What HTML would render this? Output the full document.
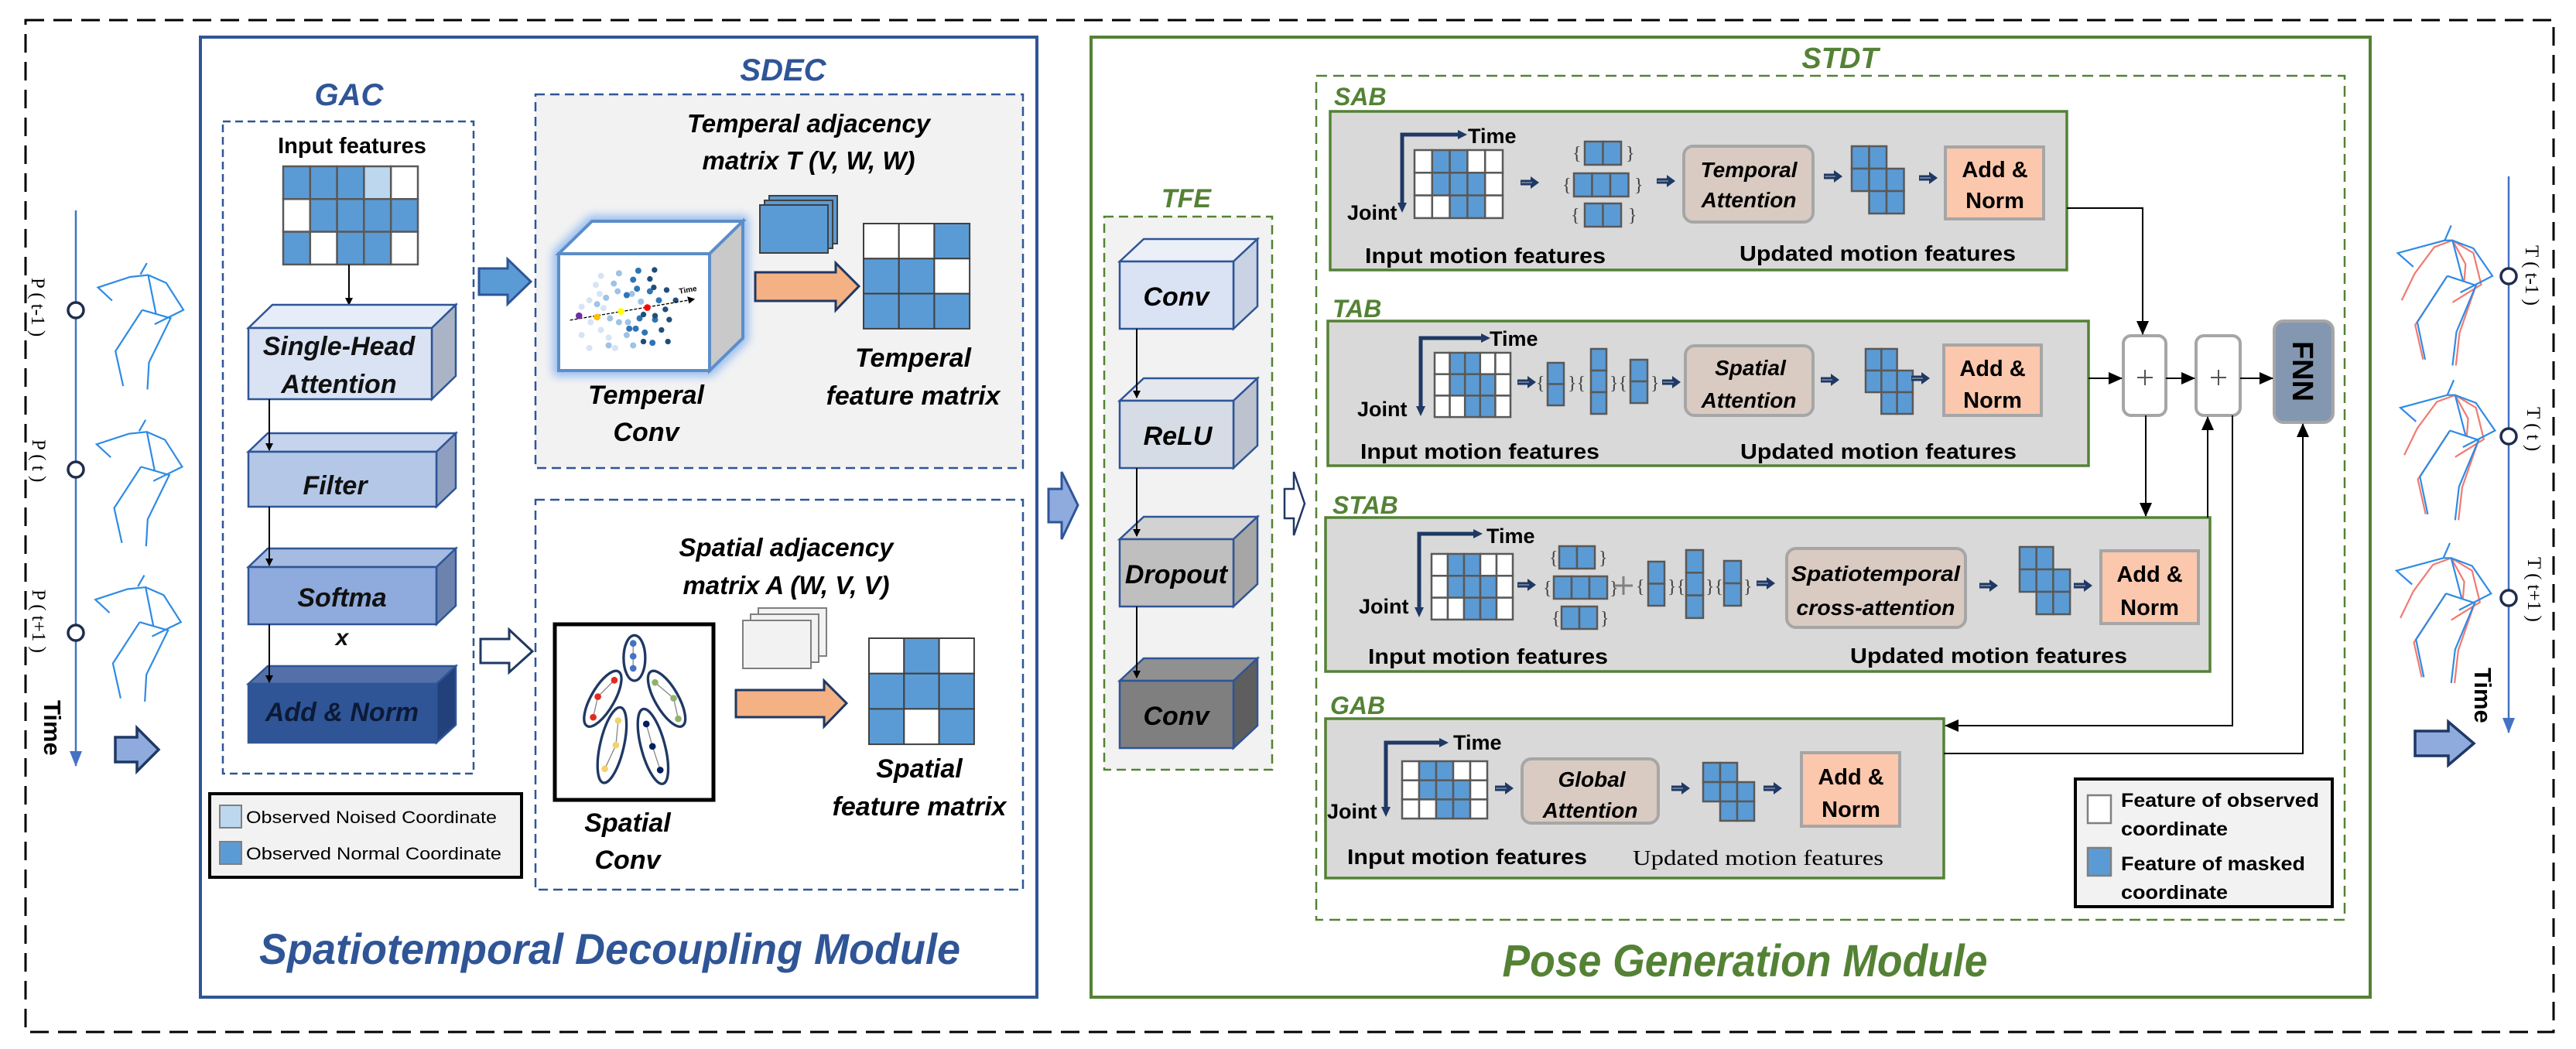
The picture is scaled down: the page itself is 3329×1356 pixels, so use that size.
<!DOCTYPE html>
<html><head><meta charset="utf-8"><style>
html,body{margin:0;padding:0;background:#fff;}
svg{display:block;}
.b{fill:#5b9bd5;stroke:#595959;stroke-width:2.5}
.w{fill:#fff;stroke:#595959;stroke-width:2.5}
.l{fill:#bdd7ee;stroke:#595959;stroke-width:2.5}
.bi{font-family:"Liberation Sans",sans-serif;font-weight:bold;font-style:italic;}
.nb{font-family:"Liberation Sans Narrow","Liberation Sans",sans-serif;font-weight:bold;}
.ni{font-family:"Liberation Sans Narrow","Liberation Sans",sans-serif;font-weight:bold;font-style:italic;}
.sk{fill:none;stroke:#2e8be6;stroke-width:2.2}
.skr{fill:none;stroke:#f07a70;stroke-width:2.2}
.con{fill:none;stroke:#000;stroke-width:2}
.sa{fill:#1f3864}
.brc{font-family:"Liberation Serif",serif;font-size:24px;fill:#404040}
</style></head><body>
<svg width="3329" height="1356" viewBox="0 0 3329 1356" xmlns="http://www.w3.org/2000/svg">
<defs>
<marker id="ah" markerWidth="10" markerHeight="10" refX="9" refY="5" orient="auto" markerUnits="userSpaceOnUse" viewBox="0 0 10 10">
<path d="M0,0 L10,5 L0,10 z" fill="#000"/></marker>
<marker id="ahb" markerWidth="18" markerHeight="18" refX="17" refY="9" orient="auto" markerUnits="userSpaceOnUse" viewBox="0 0 18 18">
<path d="M0,1 L18,9 L0,17 z" fill="#000"/></marker>
<marker id="ahn" markerWidth="14" markerHeight="14" refX="13" refY="7" orient="auto" markerUnits="userSpaceOnUse" viewBox="0 0 14 14">
<path d="M0,1 L14,7 L0,13 z" fill="#1f3864"/></marker>
<marker id="ahl" markerWidth="20" markerHeight="20" refX="19" refY="10" orient="auto" markerUnits="userSpaceOnUse" viewBox="0 0 20 20">
<path d="M0,2 L20,10 L0,18 z" fill="#4472c4"/></marker>
<filter id="glow" x="-20%" y="-20%" width="140%" height="140%"><feGaussianBlur stdDeviation="6"/></filter>
<g id="sarr"><path d="M0,-3.5 L13,-3.5 L13,-8 L24,0 L13,8 L13,3.5 L0,3.5 z" fill="#1f3864"/><line x1="1" y1="0" x2="15" y2="0" stroke="#8090a8" stroke-width="1.5"/></g>
</defs>

<!-- outer dashed frame -->
<rect x="33" y="26" width="3267" height="1308" fill="none" stroke="#000" stroke-width="3" stroke-dasharray="24 12"/>

<!-- LEFT TIMELINE -->
<line x1="98" y1="272" x2="98" y2="990" stroke="#4472c4" stroke-width="2.5" marker-end="url(#ahl)"/>
<circle cx="98" cy="401" r="10" fill="#fff" stroke="#1f2d4d" stroke-width="3.5"/>
<circle cx="98" cy="607" r="10" fill="#fff" stroke="#1f2d4d" stroke-width="3.5"/>
<circle cx="98" cy="818" r="10" fill="#fff" stroke="#1f2d4d" stroke-width="3.5"/>
<text transform="translate(41,359) rotate(90)" font-family="Liberation Serif,serif" font-size="25">P ( t-1 )</text>
<text transform="translate(42,568) rotate(90)" font-family="Liberation Serif,serif" font-size="25">P ( t )</text>
<text transform="translate(42,762) rotate(90)" font-family="Liberation Serif,serif" font-size="25">P ( t+1 )</text>
<text transform="translate(57,905) rotate(90)" font-family="Liberation Sans,sans-serif" font-weight="bold" font-size="31">Time</text>
<g transform="translate(30,260) scale(0.333,0.485)">
 <g id="skl">
 <polyline class="sk" vector-effect="non-scaling-stroke" points="345,265 290,230 415,202 485,197 555,218 622,290 510,328"/>
 <polyline class="sk" vector-effect="non-scaling-stroke" points="455,195 480,165"/>
 <polyline class="sk" vector-effect="non-scaling-stroke" points="485,197 515,300"/>
 <polyline class="sk" vector-effect="non-scaling-stroke" points="462,290 572,312 488,430 482,502"/>
 <polyline class="sk" vector-effect="non-scaling-stroke" points="462,290 358,400 388,493"/>
 </g>
 <use href="#skl" transform="translate(-5,418)"/>
 <use href="#skl" transform="translate(-10,832)"/>
</g>
<path d="M149,953 L177,953 L177,941 L205,969 L177,997 L177,985 L149,985 z" fill="#8faadc" stroke="#1f3864" stroke-width="3.5"/>

<!-- BLUE MODULE -->
<rect x="259" y="48" width="1081" height="1241" fill="#fff" stroke="#2f5597" stroke-width="4"/>
<text x="451" y="136" text-anchor="middle" class="bi" font-size="40" fill="#2f5597">GAC</text>
<rect x="288" y="157" width="324" height="843" fill="none" stroke="#2f5597" stroke-width="2.5" stroke-dasharray="10 6"/>
<text x="455" y="198" text-anchor="middle" font-family="Liberation Sans,sans-serif" font-weight="bold" font-size="29">Input features</text>
<g>
<rect class="b" x="366" y="215" width="34.8" height="42.3"/><rect class="b" x="400.8" y="215" width="34.8" height="42.3"/><rect class="b" x="435.6" y="215" width="34.8" height="42.3"/><rect class="l" x="470.4" y="215" width="34.8" height="42.3"/><rect class="w" x="505.2" y="215" width="34.8" height="42.3"/>
<rect class="w" x="366" y="257.3" width="34.8" height="42.3"/><rect class="b" x="400.8" y="257.3" width="34.8" height="42.3"/><rect class="b" x="435.6" y="257.3" width="34.8" height="42.3"/><rect class="b" x="470.4" y="257.3" width="34.8" height="42.3"/><rect class="b" x="505.2" y="257.3" width="34.8" height="42.3"/>
<rect class="b" x="366" y="299.6" width="34.8" height="42.3"/><rect class="w" x="400.8" y="299.6" width="34.8" height="42.3"/><rect class="b" x="435.6" y="299.6" width="34.8" height="42.3"/><rect class="b" x="470.4" y="299.6" width="34.8" height="42.3"/><rect class="w" x="505.2" y="299.6" width="34.8" height="42.3"/>
</g>
<line x1="451" y1="342" x2="451" y2="394" stroke="#000" stroke-width="2" marker-end="url(#ah)"/>
<!-- Single-Head -->
<g stroke="#2f5597" stroke-width="2.5">
<polygon points="321,424 352,394 589,394 558,424" fill="#e7edf8"/>
<polygon points="558,424 589,394 589,486 558,516" fill="#aab4c6"/>
<rect x="321" y="424" width="237" height="92" fill="#dae3f3"/>
<polygon points="321,584 346,560 589,560 564,584" fill="#c5d3ed"/>
<polygon points="564,584 589,560 589,631 564,655" fill="#8e9fc0"/>
<rect x="321" y="584" width="243" height="71" fill="#b4c7e7"/>
<polygon points="321,733 346,709 589,709 564,733" fill="#a6bbe2"/>
<polygon points="564,733 589,709 589,783 564,807" fill="#6d83ad"/>
<rect x="321" y="733" width="243" height="74" fill="#8faadc"/>
<polygon points="321,884 346,861 589,861 564,884" fill="#5470a8"/>
<polygon points="564,884 589,861 589,937 564,960" fill="#22407a"/>
<rect x="321" y="884" width="243" height="76" fill="#2f5597"/>
</g>
<text x="438" y="459" text-anchor="middle" class="bi" font-size="34" fill="#111">Single-Head</text>
<text x="438" y="508" text-anchor="middle" class="bi" font-size="34" fill="#111">Attention</text>
<text x="433" y="639" text-anchor="middle" class="bi" font-size="34" fill="#111">Filter</text>
<text x="442" y="784" text-anchor="middle" class="bi" font-size="34" fill="#111">Softma</text>
<text x="442" y="834" text-anchor="middle" class="bi" font-size="30" fill="#111">x</text>
<text x="442" y="932" text-anchor="middle" class="bi" font-size="34" fill="#0c1a38">Add &amp; Norm</text>
<line x1="348" y1="516" x2="348" y2="582" stroke="#000" stroke-width="2" marker-end="url(#ah)"/>
<line x1="348" y1="655" x2="348" y2="731" stroke="#000" stroke-width="2" marker-end="url(#ah)"/>
<line x1="348" y1="807" x2="348" y2="882" stroke="#000" stroke-width="2" marker-end="url(#ah)"/>
<!-- legend left -->
<rect x="271" y="1026" width="403" height="108" fill="#f2f2f2" stroke="#000" stroke-width="4"/>
<rect x="284" y="1041" width="28" height="29" fill="#bdd7ee" stroke="#7f7f7f" stroke-width="2"/>
<rect x="284" y="1088" width="28" height="29" fill="#5b9bd5" stroke="#7f7f7f" stroke-width="2"/>
<text x="318" y="1064" font-family="Liberation Sans,sans-serif" font-size="22" textLength="324" lengthAdjust="spacingAndGlyphs">Observed Noised Coordinate</text>
<text x="318" y="1111" font-family="Liberation Sans,sans-serif" font-size="22" textLength="330" lengthAdjust="spacingAndGlyphs">Observed Normal Coordinate</text>

<!-- SDEC -->
<text x="1012" y="104" text-anchor="middle" class="bi" font-size="40" fill="#2f5597">SDEC</text>
<rect x="692" y="122" width="630" height="483" fill="#f2f2f2" stroke="#2f5597" stroke-width="2.5" stroke-dasharray="12 7"/>
<text x="1045" y="171" text-anchor="middle" class="bi" font-size="33">Temperal adjacency</text>
<text x="1045" y="219" text-anchor="middle" class="bi" font-size="33">matrix T (V, W, W)</text>
<!-- cube -->
<polygon points="722,328 765,286 960,286 960,437 917,479 722,479" fill="none" stroke="#8fb8f0" stroke-width="14" filter="url(#glow)"/>
<polygon points="722,328 765,286 960,286 917,328" fill="#fff" stroke="#5b8ec9" stroke-width="4"/>
<polygon points="917,328 960,286 960,437 917,479" fill="#c9c9c9" stroke="#5b8ec9" stroke-width="4"/>
<rect x="722" y="328" width="195" height="151" fill="#fff" stroke="#5b8ec9" stroke-width="4"/>
<g transform="translate(700,270) scale(0.333)">
<g fill="#d6e4f5"><circle cx="230" cy="260" r="12"/><circle cx="210" cy="295" r="12"/><circle cx="185" cy="355" r="12"/><circle cx="155" cy="380" r="12"/><circle cx="190" cy="440" r="12"/><circle cx="155" cy="490" r="12"/><circle cx="185" cy="540" r="12"/><circle cx="230" cy="470" r="12"/><circle cx="260" cy="500" r="12"/><circle cx="285" cy="540" r="12"/><circle cx="225" cy="330" r="12"/><circle cx="240" cy="385" r="12"/></g>
<g fill="#9dc3e6"><circle cx="300" cy="250" r="12"/><circle cx="280" cy="290" r="12"/><circle cx="295" cy="320" r="12"/><circle cx="250" cy="345" r="12"/><circle cx="215" cy="370" r="12"/><circle cx="265" cy="425" r="12"/><circle cx="300" cy="440" r="12"/><circle cx="330" cy="490" r="12"/><circle cx="355" cy="530" r="12"/><circle cx="260" cy="530" r="12"/><circle cx="350" cy="330" r="12"/><circle cx="385" cy="360" r="12"/><circle cx="335" cy="440" r="12"/></g>
<g fill="#2e75b6"><circle cx="375" cy="240" r="12"/><circle cx="355" cy="275" r="12"/><circle cx="370" cy="310" r="12"/><circle cx="330" cy="335" r="12"/><circle cx="420" cy="320" r="12"/><circle cx="455" cy="355" r="12"/><circle cx="380" cy="425" r="12"/><circle cx="400" cy="480" r="12"/><circle cx="430" cy="520" r="12"/><circle cx="340" cy="465" r="12"/><circle cx="440" cy="430" r="12"/><circle cx="365" cy="465" r="12"/></g>
<g fill="#1f4e79"><circle cx="438" cy="237" r="11"/><circle cx="420" cy="272" r="11"/><circle cx="435" cy="305" r="11"/><circle cx="485" cy="315" r="11"/><circle cx="520" cy="355" r="11"/><circle cx="480" cy="390" r="11"/><circle cx="495" cy="430" r="11"/><circle cx="465" cy="470" r="11"/><circle cx="490" cy="515" r="11"/><circle cx="395" cy="410" r="11"/><circle cx="440" cy="415" r="11"/><circle cx="395" cy="515" r="11"/></g>
<line x1="110" y1="432" x2="585" y2="352" stroke="#000" stroke-width="4" stroke-dasharray="12 6"/>
<path d="M565,340 L595,350 L572,368 z" fill="#000"/>
<circle cx="145" cy="415" r="13" fill="#7030a0"/><circle cx="215" cy="420" r="13" fill="#ffc000"/><circle cx="308" cy="398" r="13" fill="#ffff00"/><circle cx="410" cy="383" r="13" fill="#ff0000"/>
<text x="535" y="330" transform="rotate(-10 535 330)" font-family="Liberation Sans,sans-serif" font-weight="bold" font-size="30">Time</text>
</g>
<rect x="994" y="253" width="88" height="62" fill="#5b9bd5" stroke="#404040" stroke-width="2"/>
<rect x="988" y="259" width="88" height="62" fill="#5b9bd5" stroke="#404040" stroke-width="2"/>
<rect x="982" y="265" width="88" height="62" fill="#5b9bd5" stroke="#404040" stroke-width="2"/>
<path d="M976,352 L1080,352 L1080,340 L1110,370 L1080,401 L1080,389 L976,389 z" fill="#f4b183" stroke="#1f3864" stroke-width="3"/>
<g stroke="#404040" stroke-width="2">
<rect x="1116" y="289" width="45.7" height="45.3" fill="#fff"/><rect x="1161.7" y="289" width="45.7" height="45.3" fill="#fff"/><rect x="1207.4" y="289" width="45.7" height="45.3" fill="#5b9bd5"/>
<rect x="1116" y="334.3" width="45.7" height="45.3" fill="#5b9bd5"/><rect x="1161.7" y="334.3" width="45.7" height="45.3" fill="#5b9bd5"/><rect x="1207.4" y="334.3" width="45.7" height="45.3" fill="#fff"/>
<rect x="1116" y="379.6" width="45.7" height="45.3" fill="#5b9bd5"/><rect x="1161.7" y="379.6" width="45.7" height="45.3" fill="#5b9bd5"/><rect x="1207.4" y="379.6" width="45.7" height="45.3" fill="#5b9bd5"/>
</g>
<text x="835" y="522" text-anchor="middle" class="bi" font-size="34">Temperal</text>
<text x="835" y="570" text-anchor="middle" class="bi" font-size="34">Conv</text>
<text x="1180" y="474" text-anchor="middle" class="bi" font-size="34">Temperal</text>
<text x="1180" y="523" text-anchor="middle" class="bi" font-size="34">feature matrix</text>
<path d="M619,347 L656,347 L656,335 L686,364 L656,393 L656,381 L619,381 z" fill="#5b9bd5" stroke="#2f5597" stroke-width="3"/>
<path d="M621,826 L658,826 L658,814 L688,842 L658,869 L658,857 L621,857 z" fill="#fff" stroke="#1f3864" stroke-width="3"/>

<rect x="692" y="646" width="630" height="504" fill="#fff" stroke="#2f5597" stroke-width="2.5" stroke-dasharray="12 7"/>
<text x="1016" y="719" text-anchor="middle" class="bi" font-size="33">Spatial adjacency</text>
<text x="1016" y="768" text-anchor="middle" class="bi" font-size="33">matrix A (W, V, V)</text>
<rect x="717" y="807" width="205" height="227" fill="#fff" stroke="#000" stroke-width="5"/>
<g transform="translate(710,800) scale(0.333)">
<g fill="none" stroke="#1f3864" stroke-width="10">
<ellipse cx="330" cy="152" rx="42" ry="88"/>
<ellipse cx="207" cy="310" rx="45" ry="122" transform="rotate(30 207 310)"/>
<ellipse cx="455" cy="310" rx="45" ry="122" transform="rotate(-30 455 310)"/>
<ellipse cx="243" cy="490" rx="46" ry="150" transform="rotate(13 243 490)"/>
<ellipse cx="402" cy="495" rx="46" ry="150" transform="rotate(-15 402 495)"/>
</g>
<g stroke="#888" stroke-width="4" fill="none">
<polyline points="325,95 325,192"/><polyline points="252,238 188,302 170,382"/><polyline points="410,247 482,308 500,388"/><polyline points="267,395 258,490 215,582"/><polyline points="376,408 400,495 430,587"/>
</g>
<g fill="#4472c4"><circle cx="325" cy="95" r="13"/><circle cx="325" cy="145" r="13"/><circle cx="325" cy="192" r="13"/></g>
<g fill="#e02b20"><circle cx="252" cy="238" r="13"/><circle cx="188" cy="302" r="13"/><circle cx="170" cy="382" r="13"/></g>
<g fill="#8fb36a"><circle cx="410" cy="247" r="13"/><circle cx="482" cy="308" r="13"/><circle cx="500" cy="388" r="13"/></g>
<g fill="#f0d36a"><circle cx="267" cy="395" r="13"/><circle cx="258" cy="490" r="13"/><circle cx="215" cy="582" r="13"/></g>
<g fill="#002060"><circle cx="376" cy="408" r="13"/><circle cx="400" cy="495" r="13"/><circle cx="430" cy="587" r="13"/></g>
</g>
<rect x="980" y="786" width="88" height="62" fill="#f2f2f2" stroke="#7f7f7f" stroke-width="2"/>
<rect x="970" y="794" width="88" height="62" fill="#f2f2f2" stroke="#7f7f7f" stroke-width="2"/>
<rect x="960" y="802" width="88" height="62" fill="#f2f2f2" stroke="#7f7f7f" stroke-width="2"/>
<path d="M951,892 L1065,892 L1065,880 L1094,909 L1065,939 L1065,927 L951,927 z" fill="#f4b183" stroke="#1f3864" stroke-width="3"/>
<g stroke="#404040" stroke-width="2">
<rect x="1123" y="825" width="45.3" height="45.7" fill="#fff"/><rect x="1168.3" y="825" width="45.3" height="45.7" fill="#5b9bd5"/><rect x="1213.6" y="825" width="45.3" height="45.7" fill="#fff"/>
<rect x="1123" y="870.7" width="45.3" height="45.7" fill="#5b9bd5"/><rect x="1168.3" y="870.7" width="45.3" height="45.7" fill="#5b9bd5"/><rect x="1213.6" y="870.7" width="45.3" height="45.7" fill="#5b9bd5"/>
<rect x="1123" y="916.4" width="45.3" height="45.7" fill="#5b9bd5"/><rect x="1168.3" y="916.4" width="45.3" height="45.7" fill="#fff"/><rect x="1213.6" y="916.4" width="45.3" height="45.7" fill="#5b9bd5"/>
</g>
<text x="811" y="1075" text-anchor="middle" class="bi" font-size="34">Spatial</text>
<text x="811" y="1123" text-anchor="middle" class="bi" font-size="34">Conv</text>
<text x="1188" y="1005" text-anchor="middle" class="bi" font-size="34">Spatial</text>
<text x="1188" y="1054" text-anchor="middle" class="bi" font-size="34">feature matrix</text>
<text x="788" y="1246" text-anchor="middle" class="bi" font-size="56" fill="#2f5597" textLength="906" lengthAdjust="spacingAndGlyphs">Spatiotemporal Decoupling Module</text>

<!-- between modules -->
<path d="M1355,632 L1372,632 L1372,610 L1393,653 L1372,697 L1372,675 L1355,675 z" fill="#8faadc" stroke="#2f5597" stroke-width="3"/>

<!-- GREEN MODULE -->
<rect x="1410" y="48" width="1653" height="1241" fill="#fff" stroke="#548235" stroke-width="4"/>
<text x="1533" y="268" text-anchor="middle" class="bi" font-size="34" fill="#548235">TFE</text>
<rect x="1427" y="280" width="217" height="715" fill="#f2f2f2" stroke="#548235" stroke-width="2.5" stroke-dasharray="12 7"/>
<g stroke="#2f5597" stroke-width="2.5">
<polygon points="1447,338 1478,309 1625,309 1594,338" fill="#eaeff8"/><polygon points="1594,338 1625,309 1625,396 1594,425" fill="#c9d3e4"/><rect x="1447" y="338" width="147" height="87" fill="#dae3f3"/>
<polygon points="1447,518 1478,489 1625,489 1594,518" fill="#e4e8ee"/><polygon points="1594,518 1625,489 1625,576 1594,605" fill="#bcc3ce"/><rect x="1447" y="518" width="147" height="87" fill="#d6dce5"/>
<polygon points="1447,697 1478,668 1625,668 1594,697" fill="#d2d2d2"/><polygon points="1594,697 1625,668 1625,755 1594,784" fill="#a6a6a6"/><rect x="1447" y="697" width="147" height="87" fill="#bfbfbf"/>
<polygon points="1447,880 1478,851 1625,851 1594,880" fill="#909090"/><polygon points="1594,880 1625,851 1625,938 1594,967" fill="#5e5e5e"/><rect x="1447" y="880" width="147" height="87" fill="#7f7f7f"/>
</g>
<text x="1520" y="395" text-anchor="middle" class="ni" font-size="34">Conv</text>
<text x="1522" y="575" text-anchor="middle" class="ni" font-size="34">ReLU</text>
<text x="1520" y="754" text-anchor="middle" class="ni" font-size="34">Dropout</text>
<text x="1520" y="937" text-anchor="middle" class="ni" font-size="34">Conv</text>
<line x1="1469" y1="425" x2="1469" y2="514" stroke="#000" stroke-width="2" marker-end="url(#ah)"/>
<line x1="1469" y1="605" x2="1469" y2="693" stroke="#000" stroke-width="2" marker-end="url(#ah)"/>
<line x1="1469" y1="784" x2="1469" y2="876" stroke="#000" stroke-width="2" marker-end="url(#ah)"/>
<path d="M1660,632 L1672,632 L1672,610 L1686,651 L1672,692 L1672,670 L1660,670 z" fill="#fff" stroke="#1f3864" stroke-width="2.5"/>

<text x="2378" y="88" text-anchor="middle" class="bi" font-size="38" fill="#548235">STDT</text>
<rect x="1701" y="98" width="1329" height="1091" fill="none" stroke="#548235" stroke-width="2.5" stroke-dasharray="14 8"/>

<!-- SAB -->
<text x="1724" y="136" class="ni" font-size="32" fill="#548235">SAB</text>
<rect x="1719" y="144" width="952" height="205" fill="#d9d9d9" stroke="#548235" stroke-width="3.5"/>
<path d="M1812,265 L1812,174 L1886,174" fill="none" stroke="#1f3864" stroke-width="5"/>
<path d="M1806,262 L1818,262 L1812,275 z M1884,168 L1896,174 L1884,180 z" fill="#1f3864"/>
<text x="1897" y="185" class="nb" font-size="27">Time</text>
<text x="1741" y="284" class="nb" font-size="27">Joint</text>
<rect class="w" x="1828" y="194" width="22.8" height="29.3"/><rect class="b" x="1850.8" y="194" width="22.8" height="29.3"/><rect class="b" x="1873.6" y="194" width="22.8" height="29.3"/><rect class="w" x="1896.4" y="194" width="22.8" height="29.3"/><rect class="w" x="1919.2" y="194" width="22.8" height="29.3"/>
<rect class="w" x="1828" y="223.3" width="22.8" height="29.3"/><rect class="b" x="1850.8" y="223.3" width="22.8" height="29.3"/><rect class="b" x="1873.6" y="223.3" width="22.8" height="29.3"/><rect class="b" x="1896.4" y="223.3" width="22.8" height="29.3"/><rect class="w" x="1919.2" y="223.3" width="22.8" height="29.3"/>
<rect class="w" x="1828" y="252.6" width="22.8" height="29.3"/><rect class="w" x="1850.8" y="252.6" width="22.8" height="29.3"/><rect class="b" x="1873.6" y="252.6" width="22.8" height="29.3"/><rect class="b" x="1896.4" y="252.6" width="22.8" height="29.3"/><rect class="w" x="1919.2" y="252.6" width="22.8" height="29.3"/>
<use href="#sarr" x="1965" y="236"/>
<text x="2032" y="206" class="brc">{</text><rect class="b" x="2048" y="183" width="23.5" height="30"/><rect class="b" x="2071.5" y="183" width="23.5" height="30"/><text x="2101" y="206" class="brc">}</text>
<text x="2019" y="247" class="brc">{</text><rect class="b" x="2034" y="224" width="23.5" height="30"/><rect class="b" x="2057.5" y="224" width="23.5" height="30"/><rect class="b" x="2081" y="224" width="23.5" height="30"/><text x="2112" y="247" class="brc">}</text>
<text x="2030" y="286" class="brc">{</text><rect class="b" x="2048" y="263" width="23.5" height="30"/><rect class="b" x="2071.5" y="263" width="23.5" height="30"/><text x="2104" y="286" class="brc">}</text>
<use href="#sarr" x="2141" y="234"/>
<rect x="2176" y="189" width="167" height="98" rx="12" fill="#d9cbc2" stroke="#a6a6a6" stroke-width="4"/>
<text x="2260" y="229" text-anchor="middle" class="ni" font-size="28">Temporal</text>
<text x="2260" y="268" text-anchor="middle" class="ni" font-size="28">Attention</text>
<use href="#sarr" x="2357" y="228"/>
<rect class="b" x="2393" y="189" width="22.5" height="29"/><rect class="b" x="2415.5" y="189" width="22.5" height="29"/><rect class="b" x="2393" y="218" width="22.5" height="29"/><rect class="b" x="2415.5" y="218" width="22.5" height="29"/><rect class="b" x="2438" y="218" width="22.5" height="29"/><rect class="b" x="2415.5" y="247" width="22.5" height="29"/><rect class="b" x="2438" y="247" width="22.5" height="29"/>
<use href="#sarr" x="2480" y="230"/>
<rect x="2514" y="190" width="127" height="93" fill="#fbc7ad" stroke="#a6a6a6" stroke-width="4"/>
<text x="2578" y="229" text-anchor="middle" class="nb" font-size="29">Add &amp;</text>
<text x="2578" y="269" text-anchor="middle" class="nb" font-size="29">Norm</text>
<text x="1764" y="340" class="nb" font-size="28" textLength="311" lengthAdjust="spacingAndGlyphs">Input motion features</text>
<text x="2248" y="337" class="nb" font-size="28" textLength="357" lengthAdjust="spacingAndGlyphs">Updated motion features</text>

<!-- TAB -->
<text x="1722" y="410" class="ni" font-size="32" fill="#548235">TAB</text>
<rect x="1716" y="415" width="983" height="187" fill="#d9d9d9" stroke="#548235" stroke-width="3.5"/>
<path d="M1836,528 L1836,437 L1916,437" fill="none" stroke="#1f3864" stroke-width="5"/>
<path d="M1830,525 L1842,525 L1836,538 z M1914,431 L1926,437 L1914,443 z" fill="#1f3864"/>
<text x="1925" y="447" class="nb" font-size="27">Time</text>
<text x="1754" y="538" class="nb" font-size="27">Joint</text>
<rect class="w" x="1854" y="456" width="19.6" height="27.7"/><rect class="b" x="1873.6" y="456" width="19.6" height="27.7"/><rect class="b" x="1893.2" y="456" width="19.6" height="27.7"/><rect class="w" x="1912.8" y="456" width="19.6" height="27.7"/><rect class="w" x="1932.4" y="456" width="19.6" height="27.7"/>
<rect class="w" x="1854" y="483.7" width="19.6" height="27.7"/><rect class="b" x="1873.6" y="483.7" width="19.6" height="27.7"/><rect class="b" x="1893.2" y="483.7" width="19.6" height="27.7"/><rect class="b" x="1912.8" y="483.7" width="19.6" height="27.7"/><rect class="w" x="1932.4" y="483.7" width="19.6" height="27.7"/>
<rect class="w" x="1854" y="511.4" width="19.6" height="27.7"/><rect class="w" x="1873.6" y="511.4" width="19.6" height="27.7"/><rect class="b" x="1893.2" y="511.4" width="19.6" height="27.7"/><rect class="b" x="1912.8" y="511.4" width="19.6" height="27.7"/><rect class="w" x="1932.4" y="511.4" width="19.6" height="27.7"/>
<use href="#sarr" x="1961" y="494"/>
<text x="1985" y="503" class="brc">{</text>
<rect class="b" x="2000" y="469" width="21" height="27.5"/><rect class="b" x="2000" y="496.5" width="21" height="27.5"/>
<text x="2026" y="503" class="brc">}{</text>
<rect class="b" x="2056" y="451" width="20" height="28"/><rect class="b" x="2056" y="479" width="20" height="28"/><rect class="b" x="2056" y="507" width="20" height="28"/>
<text x="2080" y="503" class="brc">}{</text>
<rect class="b" x="2107" y="465" width="22" height="28"/><rect class="b" x="2107" y="493" width="22" height="28"/>
<text x="2133" y="503" class="brc">}</text>
<use href="#sarr" x="2148" y="494"/>
<rect x="2178" y="447" width="165" height="90" rx="12" fill="#d9cbc2" stroke="#a6a6a6" stroke-width="4"/>
<text x="2262" y="485" text-anchor="middle" class="ni" font-size="28">Spatial</text>
<text x="2260" y="527" text-anchor="middle" class="ni" font-size="28">Attention</text>
<use href="#sarr" x="2353" y="491"/>
<rect class="b" x="2411" y="451" width="20.3" height="28"/><rect class="b" x="2431.3" y="451" width="20.3" height="28"/><rect class="b" x="2411" y="479" width="20.3" height="28"/><rect class="b" x="2431.3" y="479" width="20.3" height="28"/><rect class="b" x="2451.6" y="479" width="20.3" height="28"/><rect class="b" x="2431.3" y="507" width="20.3" height="28"/><rect class="b" x="2451.6" y="507" width="20.3" height="28"/>
<use href="#sarr" x="2470" y="489"/>
<rect x="2512" y="446" width="126" height="91" fill="#fbc7ad" stroke="#a6a6a6" stroke-width="4"/>
<text x="2575" y="486" text-anchor="middle" class="nb" font-size="29">Add &amp;</text>
<text x="2575" y="527" text-anchor="middle" class="nb" font-size="29">Norm</text>
<text x="1758" y="593" class="nb" font-size="28" textLength="309" lengthAdjust="spacingAndGlyphs">Input motion features</text>
<text x="2249" y="593" class="nb" font-size="28" textLength="357" lengthAdjust="spacingAndGlyphs">Updated motion features</text>

<!-- STAB -->
<text x="1722" y="664" class="ni" font-size="32" fill="#548235">STAB</text>
<rect x="1713" y="669" width="1143" height="199" fill="#d9d9d9" stroke="#548235" stroke-width="3.5"/>
<path d="M1834,788 L1834,690 L1906,690" fill="none" stroke="#1f3864" stroke-width="5"/>
<path d="M1828,785 L1840,785 L1834,798 z M1904,684 L1916,690 L1904,696 z" fill="#1f3864"/>
<text x="1921" y="702" class="nb" font-size="27">Time</text>
<text x="1756" y="793" class="nb" font-size="27">Joint</text>
<rect class="w" x="1850" y="716" width="21" height="28.3"/><rect class="b" x="1871" y="716" width="21" height="28.3"/><rect class="b" x="1892" y="716" width="21" height="28.3"/><rect class="w" x="1913" y="716" width="21" height="28.3"/><rect class="w" x="1934" y="716" width="21" height="28.3"/>
<rect class="w" x="1850" y="744.3" width="21" height="28.3"/><rect class="b" x="1871" y="744.3" width="21" height="28.3"/><rect class="b" x="1892" y="744.3" width="21" height="28.3"/><rect class="b" x="1913" y="744.3" width="21" height="28.3"/><rect class="w" x="1934" y="744.3" width="21" height="28.3"/>
<rect class="w" x="1850" y="772.6" width="21" height="28.3"/><rect class="w" x="1871" y="772.6" width="21" height="28.3"/><rect class="b" x="1892" y="772.6" width="21" height="28.3"/><rect class="b" x="1913" y="772.6" width="21" height="28.3"/><rect class="w" x="1934" y="772.6" width="21" height="28.3"/>
<use href="#sarr" x="1961" y="756"/>
<text x="2002" y="729" class="brc">{</text><rect class="b" x="2015" y="706" width="23" height="29"/><rect class="b" x="2038" y="706" width="23" height="29"/><text x="2066" y="729" class="brc">}</text>
<text x="1994" y="768" class="brc">{</text><rect class="b" x="2008" y="745" width="23" height="29"/><rect class="b" x="2031" y="745" width="23" height="29"/><rect class="b" x="2054" y="745" width="23" height="29"/><text x="2080" y="768" class="brc">}</text>
<text x="2005" y="807" class="brc">{</text><rect class="b" x="2018" y="784" width="23" height="29"/><rect class="b" x="2041" y="784" width="23" height="29"/><text x="2068" y="807" class="brc">}</text>
<path d="M2086,757 L2110,757 M2098,745 L2098,769" stroke="#808080" stroke-width="3"/>
<text x="2114" y="766" class="brc">{</text>
<rect class="b" x="2130" y="726" width="21" height="28.5"/><rect class="b" x="2130" y="754.5" width="21" height="28.5"/>
<text x="2155" y="766" class="brc">}{</text>
<rect class="b" x="2179" y="711" width="22" height="29.3"/><rect class="b" x="2179" y="740.3" width="22" height="29.3"/><rect class="b" x="2179" y="769.6" width="22" height="29.3"/>
<text x="2204" y="766" class="brc">}{</text>
<rect class="b" x="2228" y="725" width="22" height="29"/><rect class="b" x="2228" y="754" width="22" height="29"/>
<text x="2253" y="766" class="brc">}</text>
<use href="#sarr" x="2270" y="754"/>
<rect x="2309" y="709" width="231" height="102" rx="12" fill="#d9cbc2" stroke="#a6a6a6" stroke-width="4"/>
<text x="2424" y="751" text-anchor="middle" class="ni" font-size="28" textLength="218" lengthAdjust="spacingAndGlyphs">Spatiotemporal</text>
<text x="2424" y="795" text-anchor="middle" class="ni" font-size="28" textLength="205" lengthAdjust="spacingAndGlyphs">cross-attention</text>
<use href="#sarr" x="2558" y="757"/>
<rect class="b" x="2610" y="707" width="21.7" height="29"/><rect class="b" x="2631.7" y="707" width="21.7" height="29"/><rect class="b" x="2610" y="736" width="21.7" height="29"/><rect class="b" x="2631.7" y="736" width="21.7" height="29"/><rect class="b" x="2653.4" y="736" width="21.7" height="29"/><rect class="b" x="2631.7" y="765" width="21.7" height="29"/><rect class="b" x="2653.4" y="765" width="21.7" height="29"/>
<use href="#sarr" x="2680" y="757"/>
<rect x="2715" y="712" width="126" height="94" fill="#fbc7ad" stroke="#a6a6a6" stroke-width="4"/>
<text x="2778" y="752" text-anchor="middle" class="nb" font-size="29">Add &amp;</text>
<text x="2778" y="795" text-anchor="middle" class="nb" font-size="29">Norm</text>
<text x="1768" y="858" class="nb" font-size="28" textLength="310" lengthAdjust="spacingAndGlyphs">Input motion features</text>
<text x="2391" y="857" class="nb" font-size="28" textLength="358" lengthAdjust="spacingAndGlyphs">Updated motion features</text>

<!-- GAB -->
<text x="1719" y="923" class="ni" font-size="32" fill="#548235">GAB</text>
<rect x="1713" y="929" width="799" height="206" fill="#d9d9d9" stroke="#548235" stroke-width="3.5"/>
<path d="M1791,1046 L1791,960 L1862,960" fill="none" stroke="#1f3864" stroke-width="5"/>
<path d="M1785,1043 L1797,1043 L1791,1056 z M1860,954 L1872,960 L1860,966 z" fill="#1f3864"/>
<text x="1878" y="969" class="nb" font-size="27">Time</text>
<text x="1715" y="1058" class="nb" font-size="27">Joint</text>
<rect class="w" x="1812" y="984" width="22" height="24.7"/><rect class="b" x="1834" y="984" width="22" height="24.7"/><rect class="b" x="1856" y="984" width="22" height="24.7"/><rect class="w" x="1878" y="984" width="22" height="24.7"/><rect class="w" x="1900" y="984" width="22" height="24.7"/>
<rect class="w" x="1812" y="1008.7" width="22" height="24.7"/><rect class="b" x="1834" y="1008.7" width="22" height="24.7"/><rect class="b" x="1856" y="1008.7" width="22" height="24.7"/><rect class="b" x="1878" y="1008.7" width="22" height="24.7"/><rect class="w" x="1900" y="1008.7" width="22" height="24.7"/>
<rect class="w" x="1812" y="1033.4" width="22" height="24.7"/><rect class="w" x="1834" y="1033.4" width="22" height="24.7"/><rect class="b" x="1856" y="1033.4" width="22" height="24.7"/><rect class="b" x="1878" y="1033.4" width="22" height="24.7"/><rect class="w" x="1900" y="1033.4" width="22" height="24.7"/>
<use href="#sarr" x="1932" y="1019"/>
<rect x="1967" y="981" width="176" height="83" rx="12" fill="#d9cbc2" stroke="#a6a6a6" stroke-width="4"/>
<text x="2057" y="1017" text-anchor="middle" class="ni" font-size="28">Global</text>
<text x="2055" y="1057" text-anchor="middle" class="ni" font-size="28">Attention</text>
<use href="#sarr" x="2160" y="1019"/>
<rect class="b" x="2201" y="986" width="22" height="25"/><rect class="b" x="2223" y="986" width="22" height="25"/><rect class="b" x="2201" y="1011" width="22" height="25"/><rect class="b" x="2223" y="1011" width="22" height="25"/><rect class="b" x="2245" y="1011" width="22" height="25"/><rect class="b" x="2223" y="1036" width="22" height="25"/><rect class="b" x="2245" y="1036" width="22" height="25"/>
<use href="#sarr" x="2279" y="1019"/>
<rect x="2328" y="973" width="127" height="95" fill="#fbc7ad" stroke="#a6a6a6" stroke-width="4"/>
<text x="2392" y="1014" text-anchor="middle" class="nb" font-size="29">Add &amp;</text>
<text x="2392" y="1056" text-anchor="middle" class="nb" font-size="29">Norm</text>
<text x="1741" y="1117" class="nb" font-size="28" textLength="310" lengthAdjust="spacingAndGlyphs">Input motion features</text>
<text x="2110" y="1118" font-family="Liberation Serif,serif" font-size="27" textLength="324" lengthAdjust="spacingAndGlyphs">Updated motion features</text>

<!-- plus / FNN -->
<rect x="2744" y="434" width="55" height="103" rx="10" fill="#fff" stroke="#a6a6a6" stroke-width="4"/>
<rect x="2838" y="434" width="57" height="103" rx="10" fill="#fff" stroke="#a6a6a6" stroke-width="4"/>
<path d="M2762,488 L2782,488 M2772,478 L2772,498 M2857,488 L2877,488 M2867,478 L2867,498" stroke="#555" stroke-width="2"/>
<rect x="2939" y="415" width="76" height="131" rx="12" fill="#8497b0" stroke="#a6a6a6" stroke-width="4"/>
<text transform="translate(2963,480) rotate(90)" text-anchor="middle" font-family="Liberation Sans,sans-serif" font-weight="bold" font-size="38">FNN</text>

<!-- connectors -->
<polyline class="con" points="2671,269 2769,269 2769,432" marker-end="url(#ahb)"/>
<line class="con" x1="2699" y1="489" x2="2742" y2="489" marker-end="url(#ahb)"/>
<line class="con" x1="2799" y1="489" x2="2836" y2="489" marker-end="url(#ahb)"/>
<line class="con" x1="2895" y1="489" x2="2937" y2="489" marker-end="url(#ahb)"/>
<line class="con" x1="2773" y1="537" x2="2773" y2="667" marker-end="url(#ahb)"/>
<line class="con" x1="2853" y1="669" x2="2853" y2="539" marker-end="url(#ahb)"/>
<polyline class="con" points="2885,537 2885,938 2514,938" marker-end="url(#ahb)"/>
<polyline class="con" points="2512,974 2976,974 2976,548" marker-end="url(#ahb)"/>

<!-- right legend -->
<rect x="2682" y="1007" width="332" height="165" fill="#f2f2f2" stroke="#000" stroke-width="4"/>
<rect x="2698" y="1028" width="30" height="36" fill="#fff" stroke="#7f7f7f" stroke-width="2.5"/>
<rect x="2698" y="1096" width="30" height="36" fill="#5b9bd5" stroke="#7f7f7f" stroke-width="2.5"/>
<text x="2741" y="1043" class="nb" font-size="25" font-weight="normal" textLength="256" lengthAdjust="spacingAndGlyphs">Feature of observed</text>
<text x="2741" y="1080" class="nb" font-size="25" textLength="138" lengthAdjust="spacingAndGlyphs">coordinate</text>
<text x="2741" y="1125" class="nb" font-size="25" textLength="238" lengthAdjust="spacingAndGlyphs">Feature of masked</text>
<text x="2741" y="1162" class="nb" font-size="25" textLength="138" lengthAdjust="spacingAndGlyphs">coordinate</text>

<text x="2255" y="1262" text-anchor="middle" class="ni" font-size="58" fill="#548235" textLength="627" lengthAdjust="spacingAndGlyphs">Pose Generation Module</text>

<!-- RIGHT TIMELINE -->
<line x1="3242" y1="228" x2="3242" y2="947" stroke="#4472c4" stroke-width="2.5" marker-end="url(#ahl)"/>
<circle cx="3242" cy="357" r="10" fill="#fff" stroke="#1f2d4d" stroke-width="3.5"/>
<circle cx="3242" cy="564" r="10" fill="#fff" stroke="#1f2d4d" stroke-width="3.5"/>
<circle cx="3242" cy="773" r="10" fill="#fff" stroke="#1f2d4d" stroke-width="3.5"/>
<text transform="translate(3264,317) rotate(90)" font-family="Liberation Serif,serif" font-size="25">T ( t-1 )</text>
<text transform="translate(3266,526) rotate(90)" font-family="Liberation Serif,serif" font-size="25">T ( t )</text>
<text transform="translate(3267,720) rotate(90)" font-family="Liberation Serif,serif" font-size="25">T ( t+1 )</text>
<text transform="translate(3198,863) rotate(90)" font-family="Liberation Sans,sans-serif" font-weight="bold" font-size="31">Time</text>
<g transform="translate(3070,220) scale(0.337,0.51)">
 <g id="skr">
 <polyline class="skr" vector-effect="non-scaling-stroke" points="100,330 150,262 225,195 295,178 345,238 340,280"/>
 <polyline class="skr" vector-effect="non-scaling-stroke" points="295,178 375,210 405,290 295,335"/>
 <polyline class="skr" vector-effect="non-scaling-stroke" points="385,292 322,412 308,495"/>
 <polyline class="skr" vector-effect="non-scaling-stroke" points="275,268 152,392 182,480"/>
 <polyline class="sk" vector-effect="non-scaling-stroke" points="145,245 85,210 265,178 295,178 375,198 448,268 325,310"/>
 <polyline class="sk" vector-effect="non-scaling-stroke" points="265,178 290,140"/>
 <polyline class="sk" vector-effect="non-scaling-stroke" points="295,178 335,280"/>
 <polyline class="sk" vector-effect="non-scaling-stroke" points="275,268 385,292 310,410 295,495"/>
 <polyline class="sk" vector-effect="non-scaling-stroke" points="275,268 160,385 190,480"/>
 </g>
 <use href="#skr" transform="translate(10,392)"/>
 <use href="#skr" transform="translate(-5,805)"/>
</g>
<path d="M3121,945 L3164,945 L3164,933 L3197,961 L3164,989 L3164,977 L3121,977 z" fill="#8faadc" stroke="#1f3864" stroke-width="3.5"/>
</svg>
</body></html>
